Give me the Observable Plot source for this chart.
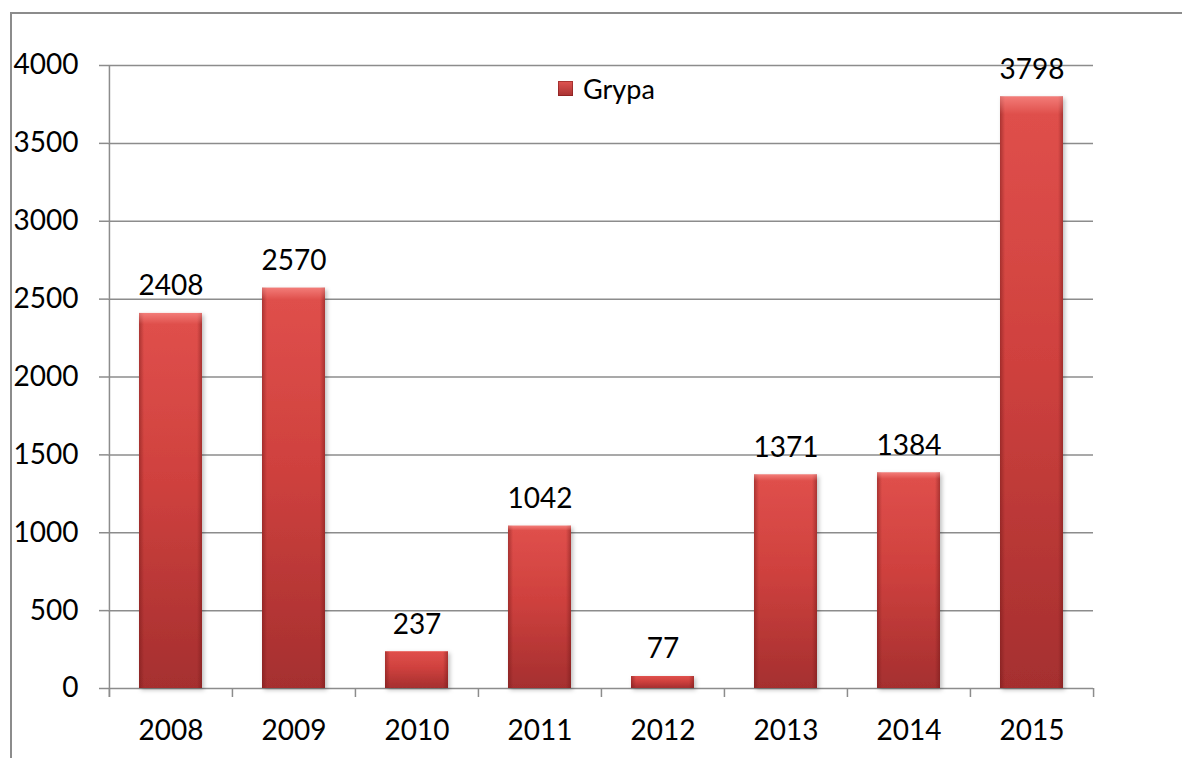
<!DOCTYPE html>
<html>
<head>
<meta charset="utf-8">
<script src="https://cdn.jsdelivr.net/npm/d3@7"></script>
<script src="https://cdn.jsdelivr.net/npm/@observablehq/plot@0.6"></script>
<style>
  html, body { margin: 0; padding: 0; background: #fff; }
  #wrap { position: relative; width: 1182px; height: 758px; font-family: Lato, "Open Sans", sans-serif; }
  #frame { position: absolute; left: 10px; top: 12px; right: 0; bottom: 0; border-top: 2px solid #8c8c8c; border-left: 2px solid #8c8c8c; pointer-events: none; }
  #legend { position: absolute; left: 558px; top: 72px; font-size: 27px; color: #000; display: flex; align-items: center; gap: 10px; }
  #legend .sw { width: 15px; height: 15px; background: linear-gradient(#e05552, #a83131); box-shadow: inset 0 0 0 1px rgba(120,20,20,0.5); }
  svg { position: absolute; left: 0; top: 0; }
</style>
</head>
<body>
<div id="wrap">
  <div id="frame"></div>
  <div id="legend"><span class="sw"></span><span id="legendText"></span></div>
</div>
<script>
const years = ["2008", "2009", "2010", "2011", "2012", "2013", "2014", "2015"];
const values = [2408, 2570, 237, 1042, 77, 1371, 1384, 3798];
const yTicks = [0, 500, 1000, 1500, 2000, 2500, 3000, 3500, 4000];
const seriesName = "Grypa";

const data = years.map((y, i) => ({year: y, value: values[i]}));

const W = 1182, H = 758, ML = 108, MR = 89, MT = 65, MB = 70;
const bw = (W - ML - MR) / years.length;
const grid = "#8c8c8c";

const chart = Plot.plot({
  width: W,
  height: H,
  marginLeft: ML,
  marginRight: MR,
  marginTop: MT,
  marginBottom: MB,
  style: {fontFamily: "Lato, 'Open Sans', sans-serif", fontSize: "28px", color: "#000", background: "transparent"},
  x: {domain: years, padding: 0, label: null},
  y: {domain: [0, 4000], label: null},
  marks: [
    Plot.ruleY(yTicks, {stroke: grid, strokeWidth: 1.5}),
    Plot.axisY({ticks: yTicks, tickFormat: d => String(d), tickSize: 9, tickPadding: 21, stroke: grid, strokeWidth: 1.5, fontSize: 28, fill: "#000", strokeOpacity: 1}),
    Plot.axisX({tickSize: 0, tickPadding: 32, fontSize: 28, fill: "#000"}),
    Plot.ruleX(years.slice(0, 1), {x: d => d, dx: -bw / 2, insetBottom: -9, stroke: grid, strokeWidth: 1.5}),
    Plot.ruleX(years, {x: d => d, dx: -bw / 2, y1: 0, y2: 0, insetBottom: -9, stroke: grid, strokeWidth: 1.5}),
    Plot.ruleX(years.slice(-1), {x: d => d, dx: bw / 2, y1: 0, y2: 0, insetBottom: -9, stroke: grid, strokeWidth: 1.5}),
    Plot.barY(data, {x: "year", y: "value", insetLeft: 30, insetRight: 30, fill: "url(#barGrad)", className: "bars"}),
    Plot.barY(data, {x: "year", y: "value", insetLeft: 30, insetRight: 30, fill: "url(#edgeGrad)"}),
    Plot.barY(data, {x: "year", y: "value", insetLeft: 30, insetRight: 30, fill: "url(#topGrad)"}),
    Plot.text(data, {x: "year", y: "value", text: d => String(d.value), dy: -27, fontSize: 28, fill: "#000"})
  ]
});

const svg = d3.select(chart);
const defs = svg.insert("defs", ":first-child");
const g1 = defs.append("linearGradient").attr("id", "barGrad").attr("x1", 0).attr("y1", 0).attr("x2", 0).attr("y2", 1);
g1.append("stop").attr("offset", "0%").attr("stop-color", "#e0504c");
g1.append("stop").attr("offset", "45%").attr("stop-color", "#cf413e");
g1.append("stop").attr("offset", "100%").attr("stop-color", "#a52f2f");
const g2 = defs.append("linearGradient").attr("id", "edgeGrad").attr("x1", 0).attr("y1", 0).attr("x2", 1).attr("y2", 0);
g2.append("stop").attr("offset", "0%").attr("stop-color", "#6a1414").attr("stop-opacity", 0.45);
g2.append("stop").attr("offset", "8%").attr("stop-color", "#6a1414").attr("stop-opacity", 0.0);
g2.append("stop").attr("offset", "92%").attr("stop-color", "#6a1414").attr("stop-opacity", 0.0);
g2.append("stop").attr("offset", "100%").attr("stop-color", "#6a1414").attr("stop-opacity", 0.45);
const g3 = defs.append("linearGradient").attr("id", "topGrad").attr("x1", 0).attr("y1", 0).attr("x2", 0).attr("y2", 1);
g3.append("stop").attr("offset", "0%").attr("stop-color", "#ff9a96").attr("stop-opacity", 0.6);
g3.append("stop").attr("offset", "3%").attr("stop-color", "#ff9a96").attr("stop-opacity", 0.0);
g3.append("stop").attr("offset", "100%").attr("stop-color", "#ff9a96").attr("stop-opacity", 0.0);
const f = defs.append("filter").attr("id", "shadow").attr("x", "-10%").attr("y", "-10%").attr("width", "130%").attr("height", "130%");
f.append("feDropShadow").attr("dx", 2).attr("dy", 2).attr("stdDeviation", 2).attr("flood-color", "#000").attr("flood-opacity", 0.25);
svg.selectAll(".bars").attr("filter", "url(#shadow)");

document.getElementById("legendText").textContent = seriesName;
document.getElementById("wrap").appendChild(chart);
document.getElementById("wrap").appendChild(document.getElementById("legend"));
</script>
</body>
</html>
